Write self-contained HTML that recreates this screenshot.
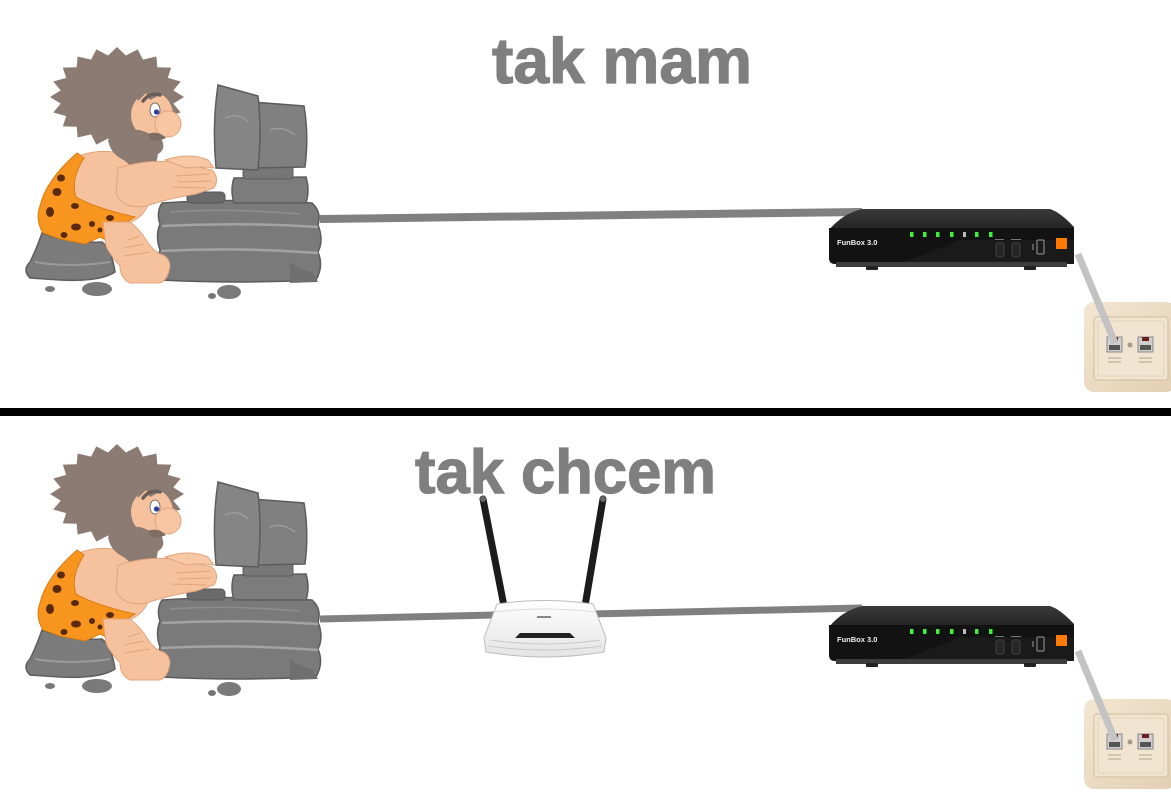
<!DOCTYPE html>
<html><head><meta charset="utf-8"><style>
html,body{margin:0;padding:0;background:#fff;}
svg{display:block;}
</style></head><body>
<svg width="1171" height="800" viewBox="0 0 1171 800" xmlns="http://www.w3.org/2000/svg">
<defs>
<linearGradient id="skg" x1="0" y1="0" x2="1" y2="1">
<stop offset="0" stop-color="#f3e6d2"/><stop offset="1" stop-color="#e3cfb2"/>
</linearGradient>
<linearGradient id="fbtop" x1="0" y1="0" x2="0" y2="1">
<stop offset="0" stop-color="#3a3a3a"/><stop offset="1" stop-color="#222"/>
</linearGradient>
<linearGradient id="tpg" x1="0" y1="0" x2="0" y2="1">
<stop offset="0" stop-color="#ffffff"/><stop offset="1" stop-color="#e4e4e4"/>
</linearGradient>

<g id="cm">
  <ellipse cx="50" cy="289" rx="5" ry="3" fill="#777"/>
  <ellipse cx="97" cy="289" rx="15" ry="7" fill="#7a7a7a"/>
  <ellipse cx="229" cy="292" rx="12" ry="7" fill="#7a7a7a"/>
  <ellipse cx="212" cy="296" rx="4" ry="3" fill="#777"/>
  <path d="M42,233 Q70,244 102,242 Q112,250 115,272 Q100,282 60,280 L30,278 Q22,270 30,262 Q36,250 42,233 Z" fill="#7b7b7b" stroke="#5e5e5e" stroke-width="1.5"/>
  <path d="M35,262 Q70,268 110,262" fill="none" stroke="#9a9a9a" stroke-width="2"/>
  <path d="M162,203 Q240,198 312,203 Q322,212 318,225 Q324,240 318,252 Q324,266 316,280 Q240,284 160,280 Q156,265 160,250 Q155,236 160,224 Q156,212 162,203 Z" fill="#7a7a7a" stroke="#5c5c5c" stroke-width="1.5"/>
  <path d="M162,226 Q240,222 318,227" fill="none" stroke="#a3a3a3" stroke-width="2.5"/>
  <path d="M161,251 Q240,247 318,253" fill="none" stroke="#a3a3a3" stroke-width="2.5"/>
  <path d="M170,212 Q230,208 300,214" fill="none" stroke="#8e8e8e" stroke-width="1.5"/>
  <path d="M290,262 Q300,270 312,272 L318,282 L290,283 Z" fill="#6f6f6f"/>
  <rect x="187" y="192" width="38" height="11" rx="4" fill="#6a6a6a" stroke="#555" stroke-width="1"/>
  <path d="M234,178 L306,177 Q310,190 306,203 L234,203 Q230,190 234,178 Z" fill="#7c7c7c" stroke="#5c5c5c" stroke-width="1.5"/>
  <rect x="243" y="166" width="50" height="13" rx="3" fill="#777" stroke="#5c5c5c" stroke-width="1"/>
  <path d="M253,102 L304,106 Q309,135 305,167 L255,168 Z" fill="#808080" stroke="#5c5c5c" stroke-width="1.5"/>
  <path d="M218,85 L258,96 Q262,130 258,170 L216,168 Q212,125 218,85 Z" fill="#858585" stroke="#5c5c5c" stroke-width="1.5"/>
  <path d="M225,118 Q238,112 248,122" fill="none" stroke="#9c9c9c" stroke-width="1.5"/>
  <path d="M270,130 Q282,125 295,135" fill="none" stroke="#9c9c9c" stroke-width="1.5"/>
  <polygon fill="#8b7b73" points="184,97 173.3,103.6 180.7,112.5 167.8,116.1 171.2,126.4 157.3,126.7 156.4,137.5 142.9,134.4 137.7,144.6 125.9,138.5 117,147 108.1,138.5 96.3,144.6 91.1,134.4 77.6,137.5 76.7,126.7 62.8,126.4 66.2,116.1 53.3,112.5 60.7,103.6 50,97 60.7,90.4 53.3,81.5 66.2,77.9 62.8,67.6 76.7,67.3 77.6,56.5 91.1,59.6 96.3,49.4 108.1,55.5 117,47 125.9,55.5 137.7,49.4 142.9,59.6 156.4,56.5 157.3,67.3 171.2,67.6 167.8,77.9 180.7,81.5 173.3,90.4"/>
  <path d="M78,156 Q110,145 136,160 L150,200 Q142,226 110,226 L68,216 Q58,185 78,156 Z" fill="#f6c29e" stroke="#e2a47c" stroke-width="1"/>
  <ellipse cx="152" cy="115" rx="21" ry="23" fill="#f6c29e"/>
  <path d="M128,84 L170,86 L165,92 L172,96 L160,95 L150,100 L146,93 L138,101 L136,93 L126,104 Z" fill="#8b7b73"/>
  <path d="M108,140 Q120,128 140,130 Q152,134 162,140 Q166,150 158,154 Q156,168 150,178 Q142,184 136,176 Q132,164 120,158 Q110,152 108,140 Z" fill="#8b7b73"/>
  <path d="M143,101 Q150,92 160,95" fill="none" stroke="#6b5d57" stroke-width="3.5" stroke-linecap="round"/>
  <ellipse cx="155" cy="110" rx="5" ry="7" fill="#fff" stroke="#555" stroke-width="0.8"/>
  <circle cx="156.5" cy="112" r="2.6" fill="#2d3f9c"/>
  <ellipse cx="168" cy="124" rx="13" ry="13" fill="#f8c6a2" stroke="#e3a57e" stroke-width="1"/>
  <path d="M148,134 Q158,130 166,138 Q158,142 150,140 Z" fill="#7d6e66"/>
  <path d="M118,168 Q150,158 180,163 L212,170 Q220,178 214,188 L196,194 Q170,198 146,206 Q124,210 116,194 Z" fill="#f6c29e" stroke="#e2a47c" stroke-width="1"/>
  <path d="M165,160 Q190,152 208,160 L214,168 Q200,166 186,168 Z" fill="#f8c8a6" stroke="#e2a47c" stroke-width="1"/>
  <path d="M175,176 L210,174 M178,182 L212,181 M172,187 L206,188" stroke="#e2a47c" stroke-width="1" fill="none"/>
  <path d="M77,153 L84,158 Q70,180 76,197 Q95,208 135,217 L127,222 L122,230 L114,228 L112,243 L100,237 L85,244 L60,239 L43,233 Q35,220 40,206 Q46,180 77,153 Z" fill="#f7951e" stroke="#d97a10" stroke-width="1"/>
  <g fill="#5a2a0d">
    <ellipse cx="61" cy="178" rx="4" ry="3.5"/>
    <ellipse cx="57" cy="192" rx="4.5" ry="4"/>
    <ellipse cx="50" cy="212" rx="4" ry="5"/>
    <ellipse cx="75" cy="206" rx="4" ry="3"/>
    <ellipse cx="76" cy="227" rx="5" ry="3.5"/>
    <ellipse cx="92" cy="224" rx="3" ry="3"/>
    <ellipse cx="64" cy="235" rx="3.5" ry="3"/>
    <ellipse cx="110" cy="218" rx="4" ry="3"/>
    <ellipse cx="100" cy="230" rx="2.5" ry="2.5"/>
  </g>
  <path d="M103,222 L130,222 Q140,230 145,238 Q152,250 160,254 Q169,256 170,266 Q168,280 160,283 L130,283 Q120,278 120,266 Q110,255 106,246 Z" fill="#f6c29e" stroke="#e2a47c" stroke-width="1"/>
  <path d="M128,240 L140,236 M124,248 L144,244 M124,256 L150,252" stroke="#e2a47c" stroke-width="1" fill="none"/>
</g>

<g id="fb">
  <path d="M862,209 L1050,209 Q1060,212 1074,227 L1074,230 L829,230 Q842,214 862,209 Z" fill="url(#fbtop)"/>
  <path d="M829,228 L1074,228 L1074,258 Q1074,264 1068,264 L835,264 Q829,264 829,258 Z" fill="#121212"/>
  <path d="M900,264 L960,240 L1074,240 L1074,264 Z" fill="#1a1a1a"/>
  <rect x="836" y="262" width="231" height="5" fill="#3d3d3d"/>
  <rect x="866" y="266" width="12" height="4" rx="1" fill="#222"/>
  <rect x="1024" y="266" width="12" height="4" rx="1" fill="#222"/>
  <g fill="#3cf03c">
    <rect x="910" y="232" width="3.5" height="5"/>
    <rect x="923" y="232" width="3.5" height="5"/>
    <rect x="936" y="232" width="3.5" height="5"/>
    <rect x="950" y="232" width="3.5" height="5"/>
    <rect x="975" y="232" width="3.5" height="5"/>
    <rect x="989" y="232" width="3.5" height="5"/>
  </g>
  <rect x="963" y="232" width="3" height="5" fill="#bbb"/>
  <text x="837" y="245" font-family="Liberation Sans, sans-serif" font-size="7.5" font-weight="bold" fill="#eee">FunBox 3.0</text>
  <rect x="996" y="243" width="8" height="14" rx="2" fill="#262626" stroke="#4a4a4a" stroke-width="0.8"/>
  <rect x="1012" y="243" width="8" height="14" rx="2" fill="#262626" stroke="#4a4a4a" stroke-width="0.8"/>
  <rect x="995" y="239" width="9" height="1" fill="#777"/>
  <rect x="1011" y="239" width="10" height="1" fill="#777"/>
  <rect x="1037" y="240" width="7" height="14" rx="1" fill="none" stroke="#999" stroke-width="1"/>
  <path d="M1033,244 L1033,250" stroke="#999" stroke-width="1"/>
  <rect x="1056" y="238" width="11" height="11" fill="#ff7a00"/>
</g>

<g id="sk">
  <rect x="1084" y="302" width="92" height="90" rx="10" fill="url(#skg)"/>
  <rect x="1094" y="317" width="74" height="63" rx="3" fill="#f1e4d0" stroke="#d6c3a6" stroke-width="1.2"/>
  <rect x="1098" y="321" width="66" height="55" rx="2" fill="none" stroke="#e2d2b8" stroke-width="1"/>
  <rect x="1107" y="337" width="15" height="15" fill="#cfcfcf" stroke="#8a8a8a" stroke-width="1"/>
  <rect x="1111" y="337" width="7" height="4" fill="#6b1f1f"/>
  <rect x="1109" y="345" width="11" height="5" fill="#555"/>
  <rect x="1138" y="337" width="15" height="15" fill="#cfcfcf" stroke="#8a8a8a" stroke-width="1"/>
  <rect x="1142" y="337" width="7" height="4" fill="#6b1f1f"/>
  <rect x="1140" y="345" width="11" height="5" fill="#555"/>
  <circle cx="1130" cy="345" r="2.5" fill="#a89a88"/>
  <path d="M1108,358 L1121,358 M1108,362 L1121,362 M1139,358 L1152,358 M1139,362 L1152,362" stroke="#b5a58c" stroke-width="1"/>
</g>
</defs>

<line x1="320" y1="219" x2="862" y2="212" stroke="#808080" stroke-width="8"/>
<use href="#cm"/>
<use href="#sk"/>
<use href="#fb"/>
<line x1="1078" y1="254" x2="1115" y2="343" stroke="#c3c3c3" stroke-width="7"/>

<text x="492" y="83" font-family="Liberation Sans, sans-serif" font-weight="bold" font-size="64" fill="#7f7f7f" stroke="#7f7f7f" stroke-width="1.2" textLength="260" lengthAdjust="spacingAndGlyphs">tak mam</text>

<rect x="0" y="408" width="1171" height="8" fill="#000"/>

<line x1="320" y1="619" x2="495" y2="615" stroke="#808080" stroke-width="7"/>
<line x1="590" y1="614" x2="862" y2="608" stroke="#808080" stroke-width="7"/>
<use href="#cm" transform="translate(0,397)"/>
<use href="#sk" transform="translate(0,397)"/>
<use href="#fb" transform="translate(0,397)"/>
<line x1="1078" y1="651" x2="1115" y2="740" stroke="#c3c3c3" stroke-width="7"/>

<line x1="483" y1="499" x2="504" y2="606" stroke="#1c1c1c" stroke-width="7" stroke-linecap="round"/>
<line x1="603" y1="499" x2="585" y2="606" stroke="#1c1c1c" stroke-width="7" stroke-linecap="round"/>
<circle cx="483" cy="499" r="3" fill="#666"/>
<circle cx="603" cy="499" r="3" fill="#666"/>
<path d="M497,604 Q545,597 593,604 L606,638 L604,652 Q545,662 486,652 L484,638 Z" fill="url(#tpg)" stroke="#bdbdbd" stroke-width="1"/>
<path d="M490,640 Q545,648 600,640" fill="none" stroke="#c8c8c8" stroke-width="1"/>
<path d="M488,646 Q545,654 602,646" fill="none" stroke="#c8c8c8" stroke-width="1"/>
<path d="M495,612 Q545,606 595,612" fill="none" stroke="#dddddd" stroke-width="1"/>
<path d="M515,638 L520,633 L570,633 L575,638 Z" fill="#222"/>
<rect x="537" y="616" width="14" height="2" fill="#888"/>

<text x="415" y="493" font-family="Liberation Sans, sans-serif" font-weight="bold" font-size="62" fill="#7f7f7f" stroke="#7f7f7f" stroke-width="1.2" textLength="301" lengthAdjust="spacingAndGlyphs">tak chcem</text>
</svg>
</body></html>
